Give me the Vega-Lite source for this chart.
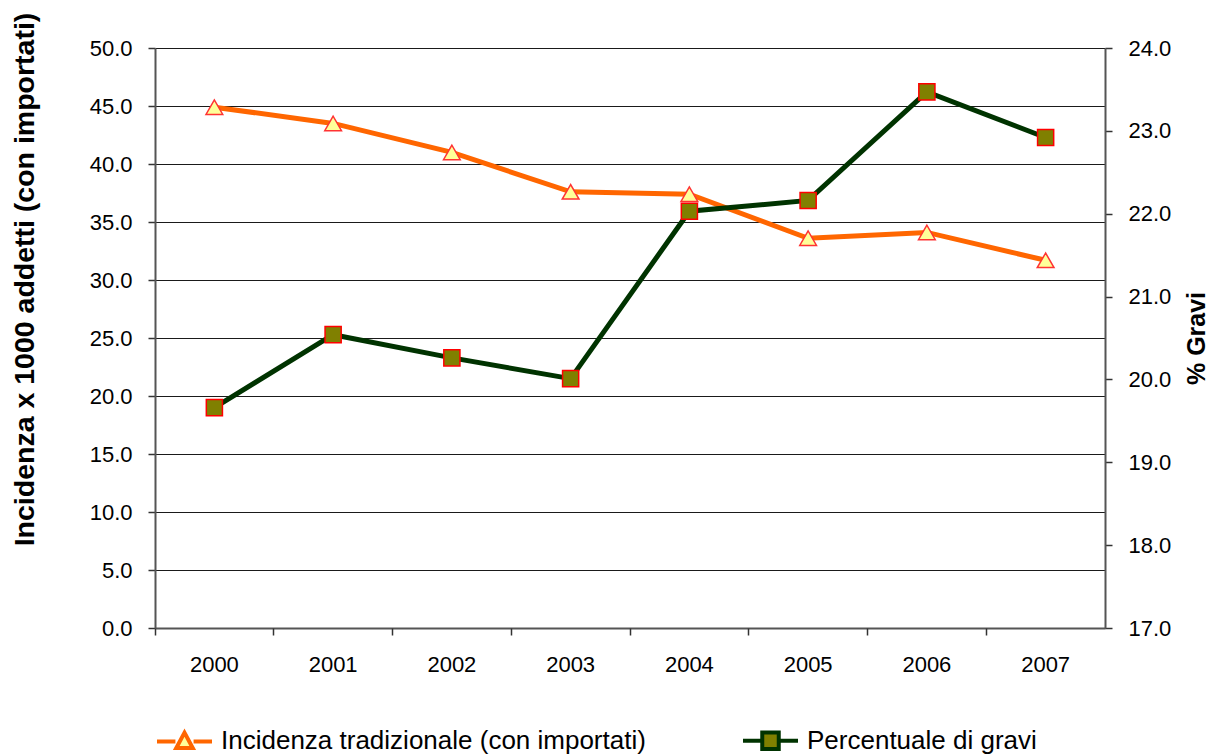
{
  "$schema": "https://vega.github.io/schema/vega-lite/v6.json",
  "width": 950,
  "height": 580,
  "autosize": "none",
  "padding": {"left": 155, "top": 48, "right": 108, "bottom": 126},
  "background": "white",
  "data": {
    "values": [
      {"year": "2000", "series": "Incidenza tradizionale (con importati)", "value": 44.9},
      {"year": "2001", "series": "Incidenza tradizionale (con importati)", "value": 43.5},
      {"year": "2002", "series": "Incidenza tradizionale (con importati)", "value": 41.0},
      {"year": "2003", "series": "Incidenza tradizionale (con importati)", "value": 37.6},
      {"year": "2004", "series": "Incidenza tradizionale (con importati)", "value": 37.4},
      {"year": "2005", "series": "Incidenza tradizionale (con importati)", "value": 33.6},
      {"year": "2006", "series": "Incidenza tradizionale (con importati)", "value": 34.1},
      {"year": "2007", "series": "Incidenza tradizionale (con importati)", "value": 31.7},
      {"year": "2000", "series": "Percentuale di gravi", "value": 19.66},
      {"year": "2001", "series": "Percentuale di gravi", "value": 20.54},
      {"year": "2002", "series": "Percentuale di gravi", "value": 20.26},
      {"year": "2003", "series": "Percentuale di gravi", "value": 20.01},
      {"year": "2004", "series": "Percentuale di gravi", "value": 22.03},
      {"year": "2005", "series": "Percentuale di gravi", "value": 22.16},
      {"year": "2006", "series": "Percentuale di gravi", "value": 23.47},
      {"year": "2007", "series": "Percentuale di gravi", "value": 22.92}
    ]
  },
  "layer": [
    {
      "transform": [{"filter": "datum.series === 'Incidenza tradizionale (con importati)'"}],
      "encoding": {
        "x": {
          "field": "year", "type": "ordinal", "bandPosition": 0.5,
          "scale": {"type": "band", "paddingInner": 0, "paddingOuter": 0},
          "axis": {
            "orient": "bottom",
            "title": null, "ticks": false, "tickSize": 0, "labelPadding": 26, "labelAngle": 0,
            "labelFontSize": 22, "labelColor": "#000", "domainColor": "#555", "domainWidth": 2, "grid": false
          }
        },
        "y": {
          "field": "value", "type": "quantitative",
          "scale": {"domain": [0, 50], "nice": false, "zero": false},
          "axis": {
            "orient": "left",
            "values": [0, 5, 10, 15, 20, 25, 30, 35, 40, 45, 50],
            "format": ".1f",
            "grid": true, "gridColor": "#1a1a1a", "gridWidth": 1,
            "domainColor": "#555", "domainWidth": 2,
            "tickColor": "#333", "tickSize": 7, "tickWidth": 1.5,
            "labelPadding": 16, "labelFontSize": 22, "labelColor": "#000",
            "title": "Incidenza x 1000  addetti  (con importati)",
            "titleFontSize": 28.5, "titleFontWeight": "bold", "titleColor": "#000",
            "titlePadding": 50, "titleY": 231
          }
        }
      },
      "layer": [
        {
          "mark": {"type": "line", "strokeWidth": 5},
          "encoding": {
            "stroke": {
              "field": "series", "type": "nominal",
              "scale": {"domain": ["Incidenza tradizionale (con importati)", "Percentuale di gravi"], "range": ["#FF6600", "#003300"]},
              "legend": {
                "title": null, "orient": "bottom", "direction": "horizontal",
                "offset": 36, "columnPadding": 89, "labelOffset": 7,
                "labelFontSize": 26, "labelColor": "#000", "labelLimit": 0,
                "symbolSize": 3025, "symbolStrokeWidth": 4,
                "encode": {
                  "symbols": {
                    "update": {
                      "fill": {"signal": "datum.value === 'Percentuale di gravi' ? '#808000' : '#FFFF99'"},
                      "shape": {"signal": "datum.value === 'Percentuale di gravi' ? 'M-1,0L-0.33,0M0.33,0L1,0M-0.3,-0.3H0.3V0.3H-0.3Z' : 'M-1,0L-0.33,0M0.33,0L1,0M0,-0.32L0.3,0.24L-0.3,0.24Z'"},
                      "opacity": {"value": 1}
                    }
                  }
                }
              }
            }
          }
        },
        {
          "mark": {"type": "point", "shape": "triangle-up", "filled": true, "fill": "#FFFF99", "stroke": "#FF3333", "strokeWidth": 1.5, "size": 280, "opacity": 1}
        }
      ]
    },
    {
      "transform": [{"filter": "datum.series === 'Percentuale di gravi'"}],
      "encoding": {
        "x": {
          "field": "year", "type": "ordinal", "bandPosition": 0.5,
          "scale": {"type": "band", "paddingInner": 0, "paddingOuter": 0},
          "axis": {
            "orient": "bottom",
            "title": null, "labels": false, "ticks": true, "bandPosition": 0, "tickSize": 7, "tickColor": "#333", "tickWidth": 1.5,
            "domain": false, "grid": false
          }
        },
        "y": {
          "field": "value", "type": "quantitative",
          "scale": {"domain": [17, 24], "nice": false, "zero": false},
          "axis": {
            "orient": "right",
            "values": [17, 18, 19, 20, 21, 22, 23, 24],
            "format": ".1f",
            "grid": false,
            "domainColor": "#555", "domainWidth": 2,
            "tickColor": "#333", "tickSize": 7, "tickWidth": 1.5,
            "labelPadding": 16, "labelFontSize": 22, "labelColor": "#000",
            "title": "% Gravi",
            "titleFontSize": 25, "titleFontWeight": "bold", "titleColor": "#000",
            "titleAngle": 270, "titlePadding": 39
          }
        }
      },
      "layer": [
        {
          "mark": {"type": "line", "strokeWidth": 5},
          "encoding": {
            "stroke": {
              "field": "series", "type": "nominal",
              "scale": {"domain": ["Incidenza tradizionale (con importati)", "Percentuale di gravi"], "range": ["#FF6600", "#003300"]}
            }
          }
        },
        {
          "mark": {"type": "point", "shape": "square", "filled": true, "fill": "#808000", "stroke": "#FF0000", "strokeWidth": 1.5, "size": 260, "opacity": 1}
        }
      ]
    }
  ],
  "resolve": {"scale": {"y": "independent"}, "axis": {"x": "independent"}},
  "config": {
    "view": {"stroke": null},
    "font": "Liberation Sans"
  }
}
